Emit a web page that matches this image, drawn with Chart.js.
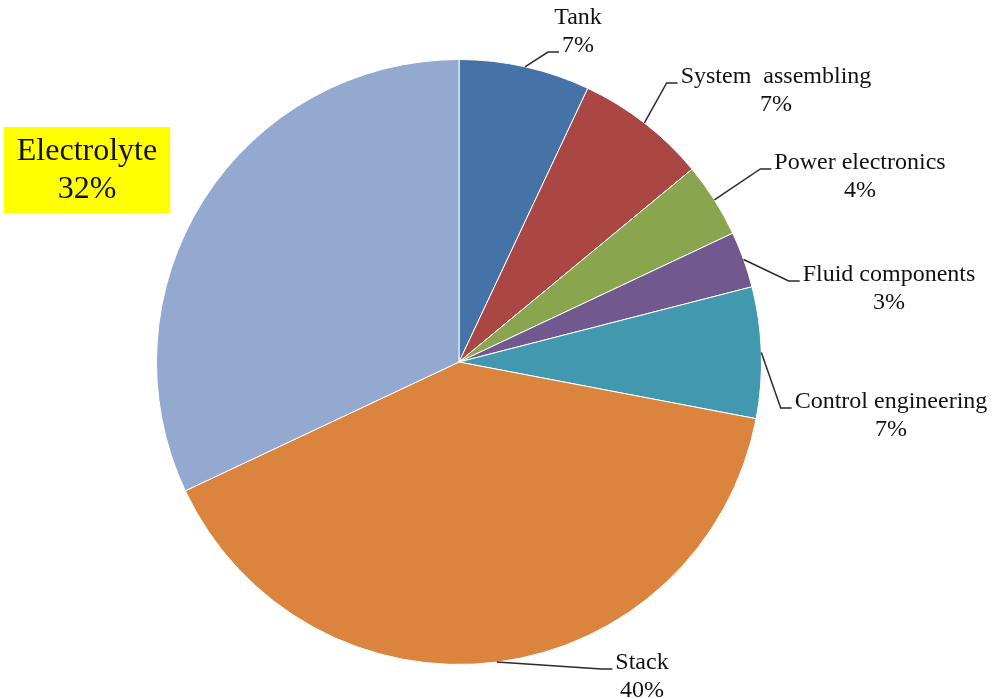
<!DOCTYPE html>
<html>
<head>
<meta charset="utf-8">
<script src="https://cdn.jsdelivr.net/npm/chart.js@4/dist/chart.umd.min.js"></script>
<style>
  html, body { margin: 0; padding: 0; background: #fff; }
  #wrap { width: 993px; height: 699px; }
</style>
</head>
<body>
<div id="wrap"><canvas id="chart-area" width="993" height="699"></canvas></div>
<script>
// slice data, clockwise from 12 o'clock
const categories = ['Tank', 'System  assembling', 'Power electronics', 'Fluid components', 'Control engineering', 'Stack', 'Electrolyte'];
const shares = [7, 7, 4, 3, 7, 40, 32];
const sliceColors = ['#4572A7', '#AA4643', '#89A54E', '#71588F', '#4198AF', '#DB843D', '#93A9CF'];

// label placement, relative to pie centre (first text line centre)
const labelDx = [119, 317, 401, 430, 432, 183, -372];
const labelDy = [-344, -285, -199, -87, 40, 301, -210];
// which text line the leader line attaches to (-1 = no leader, highlighted box)
const leaderLine = [1, 0, 0, 0, 0, 0, -1];

const labelPlugin = {
    id: 'pieLabels',
    afterDatasetsDraw(chart) {
        var ctx = chart.ctx;
        var meta = chart.getDatasetMeta(0);
        ctx.save();
        meta.data.forEach(function (arc, i) {
            var p = arc.getProps(['x', 'y', 'startAngle', 'endAngle', 'outerRadius'], true);
            var mid = (p.startAngle + p.endAngle) / 2;
            var ax = p.x + Math.cos(mid) * p.outerRadius;
            var ay = p.y + Math.sin(mid) * p.outerRadius;
            var lines = [categories[i], shares[i] + '%'];
            var tx = p.x + labelDx[i];
            var ty = p.y + labelDy[i];

            if (leaderLine[i] < 0) {
                // highlighted label (yellow box)
                var fs = 32, lh = 38;
                ctx.font = fs + 'px "Liberation Serif", "Times New Roman", serif';
                var w = Math.max.apply(null, lines.map(function (s) { return ctx.measureText(s).width; }));
                ctx.fillStyle = '#FFFF00';
                ctx.fillRect(tx - w / 2 - 13, ty - 25, w + 26, lh + 48);
                ctx.fillStyle = '#111';
                ctx.textAlign = 'center';
                ctx.textBaseline = 'middle';
                lines.forEach(function (s, k) { ctx.fillText(s, tx, ty + k * lh); });
                return;
            }

            var lh2 = 28;
            ctx.font = '24px "Liberation Serif", "Times New Roman", serif';
            ctx.textAlign = 'center';
            ctx.textBaseline = 'middle';
            ctx.fillStyle = '#111';
            lines.forEach(function (s, k) { ctx.fillText(s, tx, ty + k * lh2); });

            // leader line: arc edge -> elbow -> short horizontal to text
            var li = leaderLine[i];
            var tw = ctx.measureText(lines[li]).width;
            var ex = tx - tw / 2 - 3;
            var ey = ty + li * lh2 + 6;
            ctx.strokeStyle = '#2a2a2a';
            ctx.lineWidth = 1.5;
            ctx.beginPath();
            ctx.moveTo(ax, ay);
            ctx.lineTo(ex - 11, ey);
            ctx.lineTo(ex, ey);
            ctx.stroke();
        });
        ctx.restore();
    }
};

var ctx = document.getElementById('chart-area').getContext('2d');
var config = {
    type: 'pie',
    data: {
        labels: categories,
        datasets: [{
            data: shares,
            backgroundColor: sliceColors,
            borderColor: '#ffffff',
            borderWidth: 1
        }]
    },
    options: {
        responsive: false,
        animation: false,
        layout: { padding: { left: 156, right: 231, top: 59, bottom: 34 } },
        plugins: {
            legend: { display: false },
            tooltip: { enabled: false }
        }
    },
    plugins: [labelPlugin]
};
var chart = new Chart(ctx, config);
</script>
</body>
</html>
